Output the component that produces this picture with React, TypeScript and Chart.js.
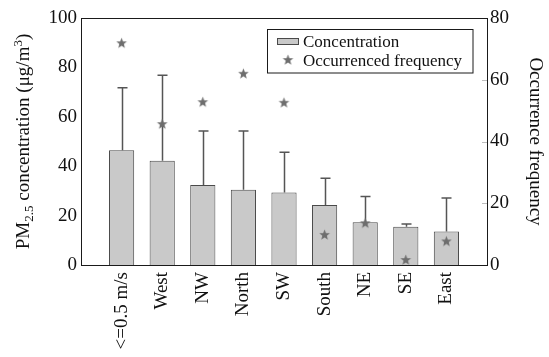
import React, { useEffect, useRef } from 'react';
import { Chart, registerables } from 'chart.js';
Chart.register(...registerables);

const categories = ['<=0.5 m/s', 'West', 'NW', 'North', 'SW', 'South', 'NE', 'SE', 'East'];
const concentration = [46.5, 42.2, 32.4, 30.5, 29.4, 24.3, 17.3, 15.5, 13.6];
const concentrationUpper = [71.8, 76.8, 54.3, 54.3, 45.6, 35.1, 27.7, 16.6, 27.1];
const frequency = [72.0, 45.8, 52.9, 62.1, 52.7, 9.9, 13.7, 1.8, 7.8];
const leftRange = [0, 100];
const rightRange = [0, 80];
const tickStep = 20;

const SERIF = "'Liberation Serif', 'DejaVu Serif', serif";
const BAR_FILL = '#c9c9c9';
const BAR_EDGE = '#4a4a4a';
const STAR_COLOR = '#6e6e6e';

function makeStar(): HTMLCanvasElement {
  const c = document.createElement('canvas');
  const s = 13;
  c.width = s;
  c.height = s;
  const ctx = c.getContext('2d')!;
  ctx.fillStyle = STAR_COLOR;
  ctx.beginPath();
  const cx = s / 2, cy = s / 2 + 0.6, R = 5.6, r = 2.4;
  for (let i = 0; i < 10; i++) {
    const ang = -Math.PI / 2 + (i * Math.PI) / 5;
    const rad = i % 2 === 0 ? R : r;
    ctx.lineTo(cx + rad * Math.cos(ang), cy + rad * Math.sin(ang));
  }
  ctx.closePath();
  ctx.fill();
  return c;
}

export default function App() {
  const ref = useRef<HTMLCanvasElement | null>(null);

  useEffect(() => {
    document.body.style.margin = '0';
    const canvas = ref.current;
    if (!canvas) return;
    const star = makeStar();
    const labels = ['', ...categories, ''];

    const decorPlugin = {
      id: 'decor',
      afterDatasetDraw(chart: any, args: any) {
        if (args.index !== 0) return;
        const ctx = chart.ctx;
        const xs = chart.scales.x;
        const ys = chart.scales.y;
        ctx.save();
        ctx.strokeStyle = '#555555';
        ctx.lineWidth = 1.5;
        concentration.forEach((v, i) => {
          const x = Math.round(xs.getPixelForValue(i + 1)) + 0.5;
          const y0 = ys.getPixelForValue(v);
          const y1 = ys.getPixelForValue(concentrationUpper[i]);
          ctx.beginPath();
          ctx.moveTo(x, y0);
          ctx.lineTo(x, y1);
          ctx.moveTo(x - 5, y1);
          ctx.lineTo(x + 5, y1);
          ctx.stroke();
        });
        ctx.restore();
      },
      afterDraw(chart: any) {
        const ctx = chart.ctx;
        const a = chart.chartArea;
        ctx.save();
        // frame
        ctx.strokeStyle = '#1a1a1a';
        ctx.lineWidth = 1;
        ctx.strokeRect(Math.round(a.left) + 0.5, Math.round(a.top) + 0.5, Math.round(a.right - a.left), Math.round(a.bottom - a.top));
        // faint inward ticks on right axis
        const y2 = chart.scales.y2;
        ctx.strokeStyle = '#bdbdbd';
        for (let v = rightRange[0] + tickStep; v < rightRange[1]; v += tickStep) {
          const py = Math.round(y2.getPixelForValue(v)) + 0.5;
          ctx.beginPath();
          ctx.moveTo(a.right - 5, py);
          ctx.lineTo(a.right, py);
          ctx.stroke();
        }
        // legend
        ctx.strokeStyle = '#1a1a1a';
        ctx.strokeRect(267.5, 29.5, 205.5, 43.5);
        ctx.fillStyle = BAR_FILL;
        ctx.fillRect(277, 38, 22, 6);
        ctx.strokeStyle = BAR_EDGE;
        ctx.strokeRect(277.5, 38.5, 21, 6);
        ctx.drawImage(star, 288 - star.width / 2, 59.5 - star.height / 2);
        ctx.fillStyle = '#111111';
        ctx.font = `17px ${SERIF}`;
        ctx.textAlign = 'left';
        ctx.textBaseline = 'alphabetic';
        ctx.fillText('Concentration', 303, 47);
        ctx.fillText('Occurrenced frequency', 303, 65.5);

        // left title with sub/superscripts
        const cy = (a.top + a.bottom) / 2;
        const big = `19px ${SERIF}`;
        const small = `13px ${SERIF}`;
        const parts: [string, string, number][] = [
          ['PM', big, 0],
          ['2.5', small, 4],
          [' concentration (\u03bcg/m', big, 0],
          ['3', small, -7],
          [')', big, 0],
        ];
        let total = 0;
        parts.forEach(([t, f]) => { ctx.font = f; total += ctx.measureText(t).width; });
        ctx.save();
        ctx.translate(29, cy);
        ctx.rotate(-Math.PI / 2);
        let px = -total / 2;
        parts.forEach(([t, f, dy]) => {
          ctx.font = f;
          ctx.fillText(t, px, dy);
          px += ctx.measureText(t).width;
        });
        ctx.restore();

        // right title
        ctx.save();
        ctx.translate(530, cy);
        ctx.rotate(Math.PI / 2);
        ctx.font = `19px ${SERIF}`;
        ctx.textAlign = 'center';
        ctx.fillText('Occurrence frequency', 0, 0);
        ctx.restore();
        ctx.restore();
      },
    };

    const chart = new Chart(canvas, {
      type: 'bar',
      data: {
        labels,
        datasets: [
          {
            type: 'bar',
            label: 'Concentration',
            data: [null, ...concentration, null] as any,
            backgroundColor: BAR_FILL,
            borderColor: BAR_EDGE,
            borderWidth: 1,
            borderSkipped: 'bottom',
            categoryPercentage: 1,
            barPercentage: 0.62,
            yAxisID: 'y',
            order: 2,
          },
          {
            type: 'line',
            label: 'Occurrenced frequency',
            data: [null, ...frequency, null] as any,
            showLine: false,
            pointStyle: star as any,
            pointRadius: 6,
            yAxisID: 'y2',
            order: 1,
          },
        ],
      },
      options: {
        responsive: false,
        animation: false,
        layout: { padding: { top: 18, left: 0, right: 0, bottom: 0 } },
        plugins: { legend: { display: false }, tooltip: { enabled: false } },
        scales: {
          x: {
            type: 'category',
            offset: false,
            grid: { display: false, drawTicks: false },
            border: { display: false },
            afterFit: (s: any) => { s.height = 92; },
            ticks: {
              autoSkip: false,
              maxRotation: 90,
              minRotation: 90,
              padding: 7,
              color: '#111111',
              font: { family: SERIF, size: 19 },
            },
          },
          y: {
            position: 'left',
            min: leftRange[0],
            max: leftRange[1],
            grid: { display: false, drawTicks: false },
            border: { display: false },
            afterFit: (s: any) => { s.width = 81; },
            ticks: { stepSize: tickStep, padding: 4, color: '#111111', font: { family: SERIF, size: 19 } },
          },
          y2: {
            position: 'right',
            min: rightRange[0],
            max: rightRange[1],
            grid: { display: false, drawTicks: false },
            border: { display: false },
            afterFit: (s: any) => { s.width = 62; },
            ticks: { stepSize: tickStep, padding: 3, color: '#111111', font: { family: SERIF, size: 19 } },
          },
        },
      } as any,
      plugins: [decorPlugin],
    });
    return () => chart.destroy();
  }, []);

  return (
    <div style={{ position: 'absolute', left: 0, top: 0, width: 549, height: 357 }}>
      <canvas ref={ref} width={549} height={357} style={{ width: 549, height: 357 }} />
    </div>
  );
}
